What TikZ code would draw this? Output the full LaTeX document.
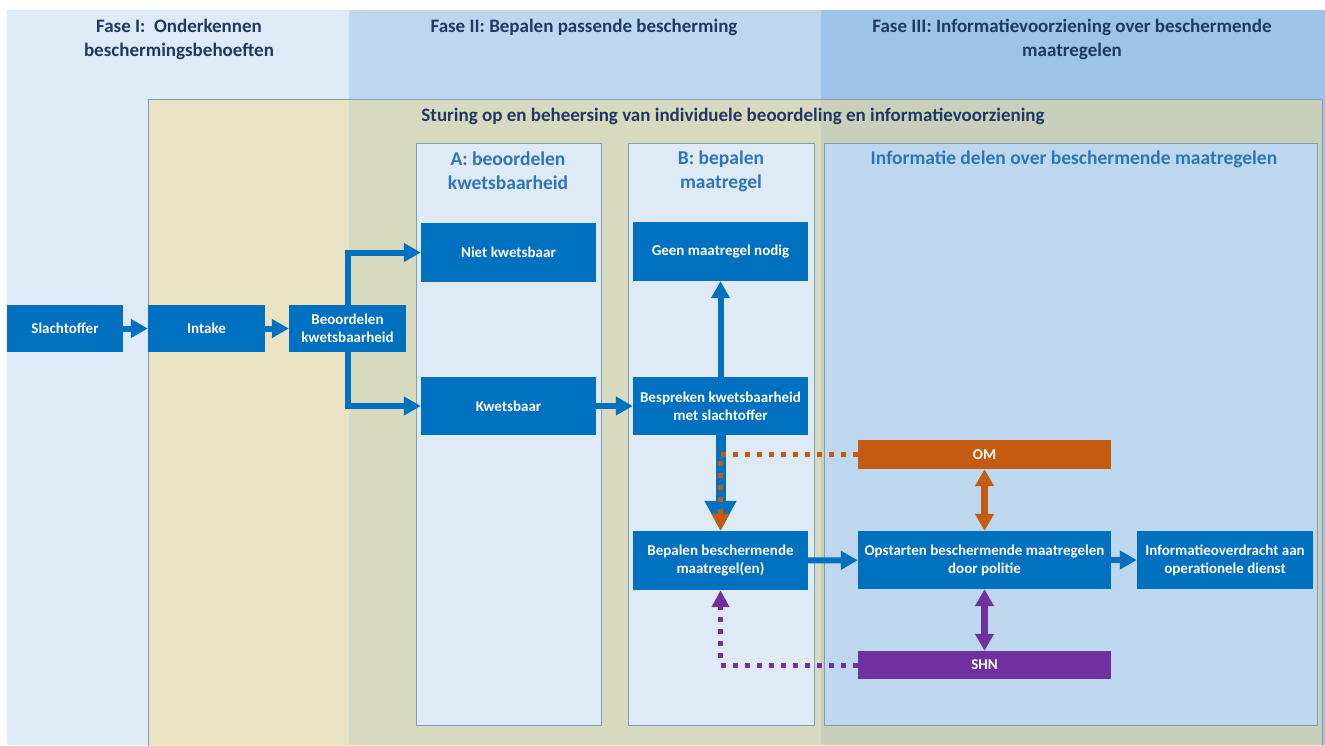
\documentclass[tikz,border=0pt]{standalone}
\usepackage{fontspec}
\setmainfont{Carlito}
\usetikzlibrary{arrows.meta}
\definecolor{phaseone}{HTML}{DEEAF6}
\definecolor{phasetwo}{HTML}{BDD7EE}
\definecolor{phasethree}{HTML}{9DC3E6}
\definecolor{navy}{HTML}{1F3864}
\definecolor{coltitle}{HTML}{2E75B6}
\definecolor{boxblue}{HTML}{0070C0}
\definecolor{omorange}{HTML}{C55A11}
\definecolor{shnpurple}{HTML}{7030A0}
\definecolor{sturfill}{HTML}{F4DE91}
\definecolor{frame}{HTML}{7F9DB9}
\definecolor{colfill}{HTML}{DEEBF7}
\definecolor{infofill}{HTML}{BDD7EE}
\tikzset{
  phasetitle/.style={text=navy, font=\fontsize{19}{24}\selectfont\bfseries, align=center, inner sep=0pt},
  coltext/.style={text=coltitle, font=\fontsize{19.5}{24}\selectfont\bfseries, align=center, inner sep=0pt},
  bluebox/.style={fill=boxblue, text=white, font=\fontsize{15}{18}\selectfont\bfseries, align=center, inner sep=0pt},
  ombox/.style={bluebox, fill=omorange},
  shnbox/.style={bluebox, fill=shnpurple},
  colbox/.style={draw=frame, line width=1pt, fill=colfill},
  bluearrow/.style={draw=boxblue, line width=6pt, -{Triangle[width=18pt,length=17pt]}},
  bigbluearrow/.style={draw=boxblue, line width=10pt, -{Triangle[width=30pt,length=30pt]}},
  omarrow/.style={draw=omorange, line width=7pt, {Triangle[width=18pt,length=17pt]}-{Triangle[width=18pt,length=17pt]}},
  shnarrow/.style={draw=shnpurple, line width=7pt, {Triangle[width=18pt,length=17pt]}-{Triangle[width=18pt,length=17pt]}},
  omdots/.style={draw=omorange, line width=5pt, dash pattern=on 5pt off 7pt, -{Triangle[width=17pt,length=17pt]}},
  shndots/.style={draw=shnpurple, line width=5pt, dash pattern=on 5pt off 7pt, -{Triangle[width=17pt,length=17pt]}},
}
\begin{document}
\begin{tikzpicture}[x=1pt,y=-1pt]
\useasboundingbox (0,0) rectangle (1325,745);
\fill[white] (0,0) rectangle (1325,745);
% phase bands
\fill[phaseone] (7,10) rectangle (349,745);
\fill[phasetwo] (349,10) rectangle (821,745);
\fill[phasethree] (821,10) rectangle (1325,745);
\node[phasetitle] (f1) at (179,39) {Fase I:\ \ Onderkennen\\beschermingsbehoeften};
\node[phasetitle] (f2) at (584,27) {Fase II: Bepalen passende bescherming};
\node[phasetitle] (f3) at (1072,39) {Fase III: Informatievoorziening over beschermende\\maatregelen};
% sturing box
\filldraw[draw=frame, line width=1pt, fill=sturfill, fill opacity=0.5] (148,99) rectangle (1322,760);
\node[phasetitle] (st) at (733,116) {Sturing op en beheersing van individuele beoordeling en informatievoorziening};
% columns
\filldraw[colbox] (416,143) rectangle (601,725);
\filldraw[colbox] (628,143) rectangle (814,725);
\filldraw[colbox, fill=infofill] (824,143) rectangle (1317,725);
\node[coltext] (ca) at (508,171) {A: beoordelen\\kwetsbaarheid};
\node[coltext] (cb) at (721,171) {B: bepalen\\maatregel};
\node[coltext] (cc) at (1074,159) {Informatie delen over beschermende maatregelen};
% boxes
\node[bluebox, minimum width=116pt, minimum height=47pt] (slacht) at (65,328.5) {Slachtoffer};
\node[bluebox, minimum width=117pt, minimum height=47pt] (intake) at (206.5,328.5) {Intake};
\node[bluebox, minimum width=117pt, minimum height=47pt] (beoord) at (347.5,328.5) {Beoordelen\\kwetsbaarheid};
\node[bluebox, minimum width=175pt, minimum height=59pt] (niet) at (508.5,252.5) {Niet kwetsbaar};
\node[bluebox, minimum width=175pt, minimum height=58pt] (kwets) at (508.5,406) {Kwetsbaar};
\node[bluebox, minimum width=175pt, minimum height=59pt] (geen) at (720.5,251.5) {Geen maatregel nodig};
\node[bluebox, minimum width=175pt, minimum height=58pt] (bespr) at (720.5,406) {Bespreken kwetsbaarheid\\met slachtoffer};
\node[bluebox, minimum width=175pt, minimum height=59pt] (bepalen) at (720.5,560.5) {Bepalen beschermende\\maatregel(en)};
\node[bluebox, minimum width=253pt, minimum height=58pt] (opstart) at (984.5,560) {Opstarten beschermende maatregelen\\door politie};
\node[bluebox, minimum width=176pt, minimum height=58pt] (infoov) at (1225,560) {Informatieoverdracht aan\\operationele dienst};
\node[ombox, minimum width=253pt, minimum height=29pt] (om) at (984.5,454.5) {OM};
\node[shnbox, minimum width=253pt, minimum height=28pt] (shn) at (984.5,665) {SHN};
% arrows
\draw[bluearrow] (slacht) -- (intake);
\draw[bluearrow] (intake) -- (beoord);
\draw[bluearrow] (beoord.north) |- (niet.west);
\draw[bluearrow] (beoord.south) |- (kwets.west);
\draw[bluearrow] (kwets) -- (bespr);
\draw[bluearrow] (bespr.north) -- (geen.south);
\draw[bigbluearrow] (bespr.south) -- (bepalen.north);
\draw[bluearrow] (bepalen) -- (opstart);
\draw[bluearrow] (opstart) -- (infoov);
\draw[omarrow] (om.south) -- (opstart.north);
\draw[shnarrow] (opstart.south) -- (shn.north);
\draw[omdots] (om.west) -| (bepalen.north);
\draw[shndots] (shn.west) -| (bepalen.south);
\end{tikzpicture}
\end{document}
